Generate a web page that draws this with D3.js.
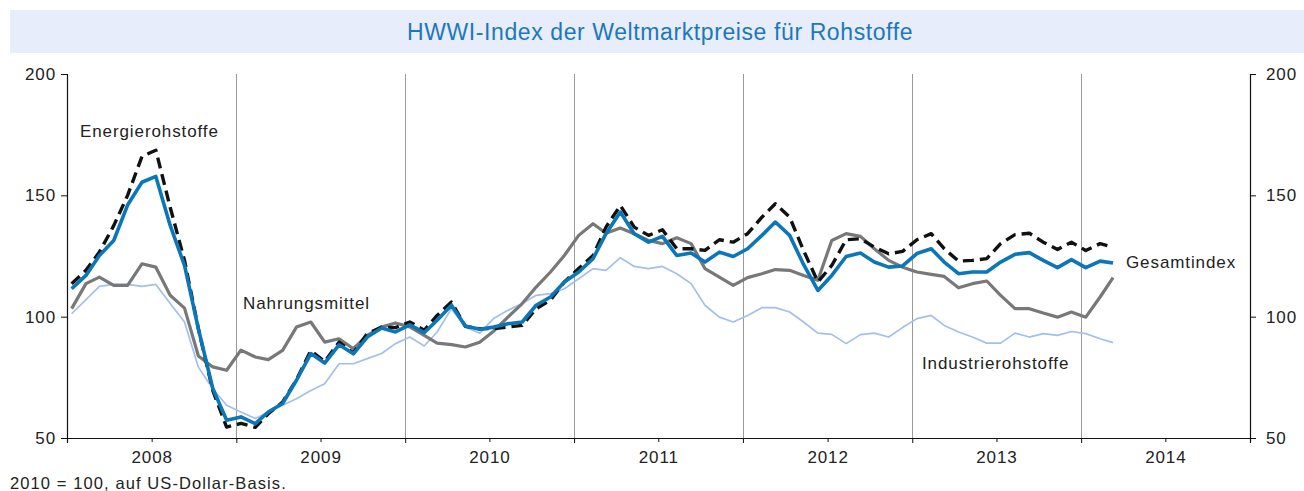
<!DOCTYPE html>
<meta charset="utf-8">
<head>
<style>
body { margin: 0; background: #fff; }
svg { display: block; font-family: "Liberation Sans", Arial, sans-serif; }
.title { font-size: 23px; fill: #1c78bb; letter-spacing: 0.6px; }
.tick text, .lbl { font-size: 17px; fill: #222; letter-spacing: 0.9px; }
.note { font-size: 16.5px; fill: #222; letter-spacing: 1.1px; }
.grid { stroke: #9a9a9a; stroke-width: 1; }
.series { fill: none; stroke-linejoin: round; }
</style>
</head>
<body>
<svg width="1304" height="491"></svg>
<script src="https://d3js.org/d3.v7.min.js"></script>
<script>

// monthly values, Jan 2008 - Mar 2014 (2010 = 100)
var gesamtindex = [111.5, 117, 125.2, 131.4, 146, 155.4, 157.8, 137.6, 121.1, 95, 70.5, 57.3,
  58.7, 55.9, 60.7, 64.2, 73.8, 84.8, 80.9, 88.4, 84.7, 91.6, 95.3, 93.7,
  96.6, 93.4, 98.5, 104.7, 96.2, 94.8, 95.7, 97.1, 97.8, 104.7, 108.1, 114.3,
  118.4, 123.9, 134.2, 143.1, 134.2, 130.7, 133.1, 125.2, 126.2, 122.5, 126.6, 124.8,
  128, 133.5, 139, 133.5, 121.5, 110.8, 117, 124.8, 126.2, 122.5, 120.4, 120.9,
  126, 128, 122.5, 117.7, 118.4, 118.4, 122.5, 125.7, 126.4, 123.2, 120.2, 123.5,
  120.2, 122.9, 122.1];

var energie = [113.6, 119.1, 126.6, 137.5, 150, 166, 168.6, 145.1, 123.2, 95, 69.6, 54.5,
  56, 54.4, 60, 64.8, 74, 86, 81.5, 89.5, 85, 93, 95.7, 95.5,
  97.8, 94.4, 100.5, 106, 96, 95, 95.1, 95.7, 96.4, 103.3, 106.8, 114.3,
  119.8, 125.2, 136.9, 145.8, 136.9, 133.5, 135.8, 128, 128, 127.3, 131.7, 130.7,
  134.2, 141, 146.5, 141, 127.3, 114.3, 121.1, 131.7, 132.1, 128.7, 125.9, 126.9,
  131.7, 134.2, 128, 122.9, 123.2, 123.9, 130.1, 133.8, 134.4, 130.7, 127.7, 130.7,
  127.3, 130.1, 128.7];

var nahrung = [103.3, 113.6, 116.3, 112.9, 112.9, 121.8, 120.4, 108.8, 103.5, 83.8, 79.3, 77.9,
  86.2, 83.4, 82.3, 86.1, 95.7, 97.8, 89.5, 90.9, 86.8, 92.3, 95.7, 97.4,
  95.8, 92.3, 89.1, 88.5, 87.5, 89.5, 94, 99.8, 105.4, 112.2, 118.4, 125.2,
  133.5, 138.3, 134.4, 136.5, 134.2, 131.4, 130.1, 132.5, 130.1, 119.8, 116.3, 112.9,
  116.1, 117.7, 119.4, 119.1, 117, 115, 131.4, 134.2, 133.1, 128, 123.2, 120.4,
  118.4, 117.4, 116.6, 111.9, 113.6, 114.7, 108.8, 103.3, 103.3, 101.5, 99.8, 101.9,
  99.8, 108.1, 116.1];

var industrie = [101.2, 107, 112.5, 113.3, 113.3, 112.5, 113.3, 105.4, 97.8, 79.2, 70.3, 63.5,
  60.7, 58, 60.7, 63.5, 66.2, 69.6, 72.4, 80.6, 80.6, 82.7, 84.8, 88.9,
  91.6, 87.9, 93.7, 103.3, 95.7, 93.2, 99.2, 102.6, 105.4, 108.8, 109.5, 111.5,
  115.6, 119.8, 119.1, 124.3, 120.7, 119.8, 120.7, 117.7, 113.6, 104.7, 99.8, 97.8,
  100.5, 103.7, 103.7, 101.9, 97.8, 93.2, 92.7, 88.9, 92.6, 93.2, 91.6, 95.5,
  99.2, 100.5, 96.4, 93.7, 91.6, 89.1, 89.1, 93.2, 91.6, 93, 92.3, 93.9,
  93, 90.9, 89.3];

var yTicks = [50, 100, 150, 200];
var years = [2008, 2009, 2010, 2011, 2012, 2013, 2014];

var svg = d3.select("svg"),
    plot = { left: 67, right: 1250, top: 74, bottom: 438 };

var months = d3.timeMonth.range(new Date(2008, 0, 1), new Date(2014, 3, 1));
var dates = months.map(function(m) { return d3.timeDay.offset(m, 10); });

var x = d3.scaleTime()
    .domain([new Date(2008, 0, 1), new Date(2015, 0, 1)])
    .range([plot.left, plot.right]);

var y = d3.scaleLinear()
    .domain([50, 200])
    .range([plot.bottom, plot.top]);

// title band
svg.append("rect")
    .attr("x", 10).attr("y", 10)
    .attr("width", 1294).attr("height", 43)
    .attr("fill", "#e7edfa");

svg.append("text")
    .attr("class", "title")
    .attr("x", 660).attr("y", 40)
    .attr("text-anchor", "middle")
    .text("HWWI-Index der Weltmarktpreise für Rohstoffe");

// year separators
var bounds = years.slice(1).map(function(yr) { return new Date(yr, 0, 1); });
svg.append("g").selectAll("line")
  .data(bounds)
  .enter().append("line")
    .attr("class", "grid")
    .attr("x1", function(d) { return Math.round(x(d)) + 0.5; })
    .attr("x2", function(d) { return Math.round(x(d)) + 0.5; })
    .attr("y1", plot.top).attr("y2", plot.bottom);

// axes
svg.append("g")
    .attr("transform", "translate(" + plot.left + ",0)")
    .call(d3.axisLeft(y).tickValues(yTicks).tickSize(6).tickPadding(5));

svg.append("g")
    .attr("transform", "translate(" + plot.right + ",0)")
    .call(d3.axisRight(y).tickValues(yTicks).tickSize(6).tickPadding(10));

svg.append("g")
    .attr("transform", "translate(0," + plot.bottom + ")")
    .call(d3.axisBottom(x)
      .tickValues(years.map(function(yr) { return new Date(yr, 0, 1); }).concat([new Date(2015, 0, 1)]))
      .tickSize(5).tickFormat(""));

var xMid = svg.append("g")
    .attr("transform", "translate(0," + plot.bottom + ")")
    .call(d3.axisBottom(x)
      .tickValues(years.map(function(yr) { return new Date(yr, 6, 2); }))
      .tickSize(4).tickPadding(9)
      .tickFormat(d3.timeFormat("%Y")));
xMid.select(".domain").remove();

svg.selectAll(".domain").attr("stroke", "#111").attr("stroke-width", 1.2);
svg.selectAll(".tick line").attr("stroke", "#111");
svg.selectAll(".tick text").attr("font-family", null).attr("font-size", null);

// series
var line = d3.line()
    .x(function(d, i) { return x(dates[i]); })
    .y(function(d) { return y(d); });

var series = [
  { values: industrie, color: "#a3c0ea", width: 1.7, dash: null },
  { values: nahrung, color: "#787878", width: 3.2, dash: null },
  { values: energie, color: "#111111", width: 3.4, dash: "11,6" },
  { values: gesamtindex, color: "#0b76b8", width: 3.6, dash: null }
];

svg.append("g").selectAll("path")
  .data(series)
  .enter().append("path")
    .attr("class", "series")
    .attr("d", function(d) { return line(d.values); })
    .attr("stroke", function(d) { return d.color; })
    .attr("stroke-width", function(d) { return d.width; })
    .attr("stroke-dasharray", function(d) { return d.dash; });

// labels
var labels = [
  { text: "Energierohstoffe", x: 80, y: 137 },
  { text: "Nahrungsmittel", x: 243, y: 309 },
  { text: "Industrierohstoffe", x: 922, y: 369 },
  { text: "Gesamtindex", x: 1126, y: 268 }
];

svg.append("g").selectAll("text")
  .data(labels)
  .enter().append("text")
    .attr("class", "lbl")
    .attr("x", function(d) { return d.x; })
    .attr("y", function(d) { return d.y; })
    .text(function(d) { return d.text; });

svg.append("text")
    .attr("class", "note")
    .attr("x", 10).attr("y", 489)
    .text("2010 = 100, auf US-Dollar-Basis.");

</script>
</body>
</html>
